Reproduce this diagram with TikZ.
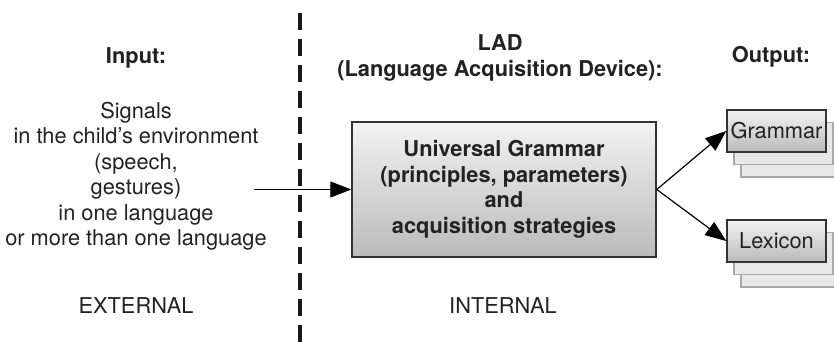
\documentclass[tikz,border=0pt]{standalone}
\usepackage{fontspec}
\setmainfont{TeX Gyre Heros}
\usetikzlibrary{arrows.meta}
\definecolor{txt}{HTML}{222222}
\definecolor{edge}{HTML}{333333}
\definecolor{shfill}{HTML}{E8E8E8}
\definecolor{shedge}{HTML}{A8A8A8}
\begin{document}
\begin{tikzpicture}[x=1pt,y=-1pt,
  every node/.style={text=txt,font=\fontsize{21.8}{25.5}\selectfont,align=center,inner sep=0pt},
  bold/.style={font=\fontsize{21.8}{25.5}\selectfont\bfseries},
  gradbox/.style={draw=edge,line width=1.5pt,top color=white!95!black,bottom color=black!27},
  outbox/.style={gradbox,minimum width=99pt,minimum height=42pt},
  shadowbox/.style={draw=shedge,fill=shfill,line width=1.3pt,minimum width=99pt,minimum height=42pt},
  conn/.style={draw=black,line width=1.2pt,-{Triangle[length=21pt,width=16pt]}},
  divider/.style={line width=4pt,dash pattern=on 17pt off 9pt,draw=black!90}
]
\useasboundingbox (0,0) rectangle (834,342);
% divider
\coordinate (dtop) at (300,13);
\coordinate (dbot) at (300,346);
\draw[divider] (dtop) -- (dbot);
% headings
\node[bold] (input) at (136,58) {Input:};
\node[bold] (lad) at (500,43) {LAD};
\node[bold] (ladfull) at (500,71) {(Language Acquisition Device):};
\node[bold] (output) at (771,57) {Output:};
% input text
\node (signals) at (136,176) {Signals\\in the child’s environment\\(speech,\\gestures)\\in one language\\or more than one language};
\node (external) at (136,306) {EXTERNAL};
\node (internal) at (503,306) {INTERNAL};
% LAD box
\node[gradbox,bold,minimum width=304pt,minimum height=135pt] (ug) at (504,189.5)
  {Universal Grammar\\(principles, parameters)\\and\\acquisition strategies};
% output boxes
\node[shadowbox] (gs2) at (790.5,156) {};
\node[shadowbox] (gs1) at (783.5,143.5) {};
\node[outbox] (grammar) at (776.5,131) {Grammar};
\node[shadowbox] (ls2) at (790.5,266) {};
\node[shadowbox] (ls1) at (783.5,253.5) {};
\node[outbox] (lexicon) at (776.5,241) {Lexicon};
% connectors
\coordinate (instart) at (254,189.5);
\draw[conn] (instart) -- (ug.west);
\draw[conn] (ug.east) -- (grammar.west);
\draw[conn] (ug.east) -- (lexicon.west);
\end{tikzpicture}
\end{document}
